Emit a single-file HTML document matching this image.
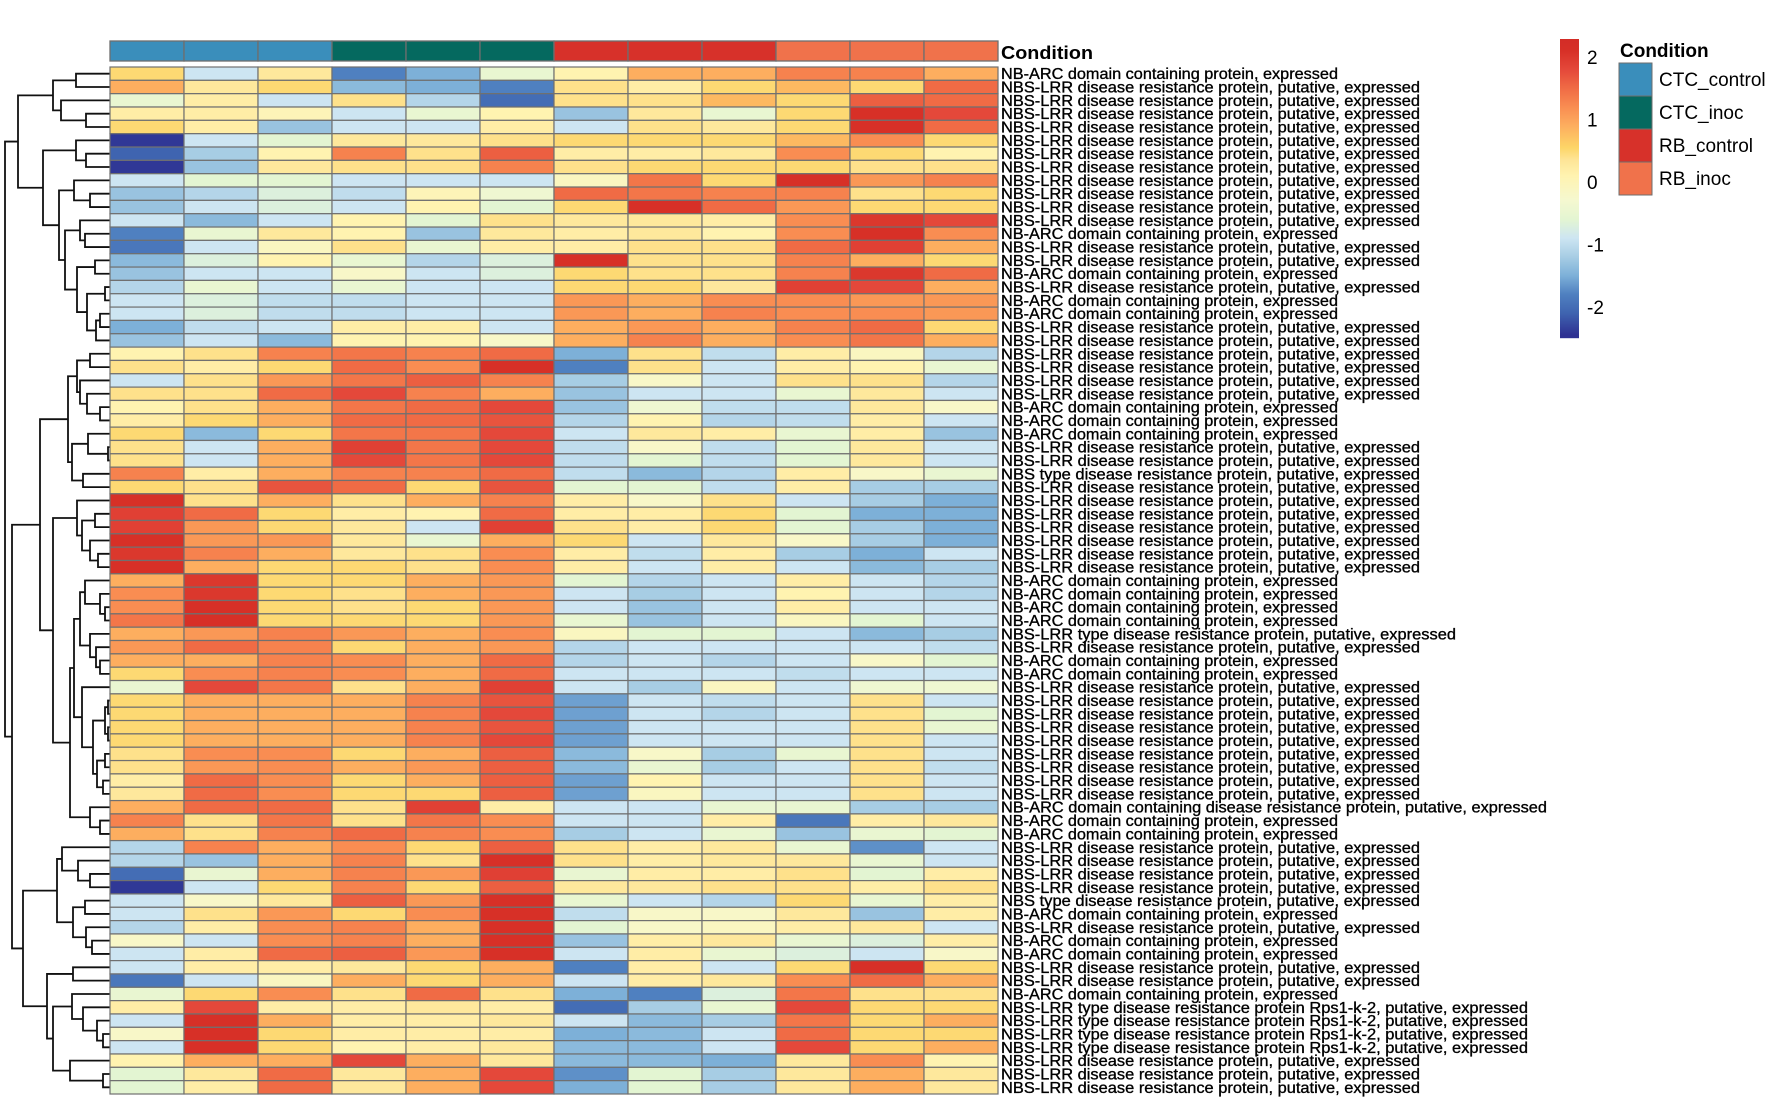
<!DOCTYPE html>
<html><head><meta charset="utf-8"><style>
html,body{margin:0;padding:0;background:#fff;}
svg{display:block;font-family:"Liberation Sans",Arial,sans-serif;}
</style></head><body>
<svg id="chart" width="1772" height="1104" viewBox="0 0 1772 1104" xmlns="http://www.w3.org/2000/svg">
<g id="dendro"></g>
<g id="annot"></g>
<g id="cells"></g>
<g id="labels"></g>
<g id="legend"></g>
</svg>
<script>
const samples = ["CTC_control","CTC_control","CTC_control","CTC_inoc","CTC_inoc","CTC_inoc","RB_control","RB_control","RB_control","RB_inoc","RB_inoc","RB_inoc"];
const conditions = ["CTC_control","CTC_inoc","RB_control","RB_inoc"];
const conditionColors = ["#3a8ebb","#05695f","#d7312a","#f0724b"];
const legendTicks = [2,1,0,-1,-2];
const A="NB-ARC domain containing protein, expressed";
const L="NBS-LRR disease resistance protein, putative, expressed";
const T="NBS type disease resistance protein, putative, expressed";
const LT="NBS-LRR type disease resistance protein, putative, expressed";
const AD="NB-ARC domain containing disease resistance protein, putative, expressed";
const R="NBS-LRR type disease resistance protein Rps1-k-2, putative, expressed";
const rowLabels = [A,L,L,L,L,L,L,L,L,L,L,L,A,L,L,A,L,A,A,L,L,L,L,L,L,A,A,A,L,L,T,L,L,L,L,L,L,L,A,A,A,A,LT,L,A,A,L,L,L,L,L,L,L,L,L,AD,A,A,L,L,L,L,T,A,L,A,A,L,L,A,R,R,R,R,L,L,L];
const values = [
[0.5,-0.9,0.3,-1.8,-1.5,-0.5,0.1,0.9,0.9,1.3,1.3,0.9],
[0.9,0.3,0.5,-1.4,-1.5,-1.8,0.4,0.2,0.5,0.8,0.5,1.5],
[-0.5,0.2,-0.9,0.4,-1.1,-2.0,0.4,0.4,0.8,0.5,1.6,1.5],
[0.2,0.2,0,-0.9,-0.5,0.1,-1.3,0.3,-0.5,0.5,2.1,1.8],
[0.5,0.2,-1.3,-0.9,-0.9,0.2,-0.9,0.4,0.3,0.5,2.1,1.5],
[-2.4,-0.9,-0.6,0.3,0.3,0.4,0.5,0.5,0.5,0.8,1.2,0.5],
[-2.1,-1.2,0.1,1.3,0.4,1.6,0.2,0.2,0.3,1.2,0.5,0.1],
[-2.4,-1.3,0.3,0.4,0.4,1.3,0.4,0.5,0.5,0.5,0.4,0.4],
[-0.9,-0.6,-0.6,-0.9,-0.9,-0.9,-0.1,1.4,0.5,2.1,1.1,1.3],
[-1.3,-1.1,-0.7,-1.0,0,-0.4,1.5,1.4,1.3,1.3,0.4,0.5],
[-1.3,-0.9,-0.7,-0.9,0.1,-0.6,0.5,2.1,1.5,1.1,0.5,0.5],
[-0.9,-1.4,-0.9,0.1,-0.6,0.4,0.3,0.3,0.2,1.2,2.0,1.8],
[-1.8,-0.5,0.3,0.1,-1.3,0.3,0.2,0.3,0.1,1.2,2.1,1.2],
[-1.9,-0.9,-0.1,0.4,-0.5,0.2,0.2,0.4,0.4,1.5,1.9,0.9],
[-1.4,-0.7,0.1,-0.5,-1.1,-0.7,2.1,0.4,0.4,1.3,0.9,0.5],
[-1.3,-0.9,-0.9,-0.2,-0.9,-0.7,0.5,0.4,0.4,1.3,2.0,1.5],
[-1.1,-0.5,-0.9,-0.5,-0.9,-0.9,0.5,0.5,0.3,1.9,1.8,0.9],
[-0.9,-0.7,-1.0,-1.0,-0.9,-0.9,1.1,0.9,1.2,1.2,1.1,1.1],
[-0.9,-0.7,-1.0,-1.0,-0.9,-0.9,1.1,0.9,1.3,1.2,1.2,1.1],
[-1.5,-1.0,-0.9,0.2,0.2,-0.9,0.9,1.1,0.9,1.3,1.5,0.5],
[-1.3,-0.9,-1.4,0.1,0.1,-0.2,0.9,1.3,0.9,1.2,1.4,0.9],
[0.1,0.4,1.3,1.4,1.3,1.5,-1.5,0.4,-1.0,0.2,-0.1,-1.1],
[0.4,0.2,0.5,1.5,1.2,2.1,-1.8,0.4,-0.9,0.2,0.1,-0.5],
[-0.9,0.4,1.1,1.4,1.6,1.3,-1.2,-0.2,-0.9,0.4,0.4,-1.1],
[0.4,0.4,1.5,1.8,1.3,0.9,-1.3,-0.9,-0.9,-0.5,0.3,-0.9],
[0.1,0.4,0.9,1.4,1.5,1.8,-1.3,-0.4,-1.0,-1.0,0.3,-0.2],
[0.2,0.5,0.9,1.5,1.5,1.7,-1.1,0.1,-1.1,-1.0,0.2,-0.9],
[0.5,-1.4,0.5,1.4,1.4,1.8,-0.9,0.3,0.2,-0.5,0.2,-1.3],
[0.4,-0.9,0.9,1.9,1.4,1.8,-1.0,-0.2,-1.0,-0.6,0.3,-0.9],
[0.4,-0.9,0.9,1.8,1.4,1.8,-1.0,-0.6,-1.0,-0.6,0.3,-0.9],
[1.3,0.2,0.9,1.3,1.3,1.5,-1.0,-1.4,-1.1,0.2,-0.2,-0.5],
[0.5,0.4,1.7,1.5,0.5,1.7,-0.6,-0.6,-1.0,0.2,-1.2,-1.2],
[2.1,0.4,0.9,0.4,0.9,1.3,0.2,-0.2,0.4,-0.9,-1.2,-1.5],
[1.9,1.5,0.5,0.2,0.1,1.5,0.2,0.2,0.5,-0.6,-1.5,-1.5],
[1.9,1.1,0.5,0.3,-0.9,1.9,0.4,0.2,0.5,-0.6,-1.2,-1.5],
[2.1,1.1,1.1,0.3,-0.5,0.9,0.5,-0.9,0.3,-0.2,-1.2,-1.5],
[2.0,1.3,0.9,0.3,0.4,1.2,0.2,-1.0,0.2,-1.2,-1.5,-0.9],
[2.1,0.9,0.5,0.5,0.4,1.2,0.2,-0.9,0.2,-0.9,-1.4,-1.2],
[0.9,2.0,0.5,0.5,0.9,1.1,-0.6,-1.1,-0.9,0.2,-0.9,-1.1],
[1.2,2.0,0.5,0.4,0.9,1.1,-0.9,-1.2,-0.9,0.1,-0.9,-1.1],
[1.2,2.1,0.5,0.4,0.5,1.1,-0.9,-1.3,-0.9,0.2,-0.9,-0.9],
[1.4,2.1,0.5,0.5,0.5,1.1,-0.5,-1.3,-0.9,-0.1,-0.6,-0.9],
[0.9,1.1,1.3,1.1,0.9,1.2,-0.1,-0.6,-0.6,-0.9,-1.4,-1.2],
[1.1,1.5,1.3,0.5,0.9,1.1,-1.1,-0.9,-0.9,-0.9,-0.9,-1.0],
[0.9,0.9,1.3,1.2,0.9,1.5,-1.1,-0.9,-1.1,-0.9,-0.2,-0.6],
[0.5,1.2,1.3,1.2,0.9,1.5,-0.9,-0.9,-0.9,-1.0,-0.9,-0.9],
[-0.5,1.8,1.4,0.4,0.9,1.9,-0.9,-1.2,-0.1,-0.9,-0.4,-0.4],
[0.5,0.9,0.9,0.9,1.3,1.7,-1.6,-0.9,-1.0,-0.9,0.4,-0.9],
[0.5,0.9,0.9,0.9,1.3,1.8,-1.6,-0.9,-1.1,-0.9,0.4,-0.6],
[0.5,0.9,0.9,0.9,1.3,1.7,-1.6,-0.9,-0.9,-0.9,0.4,-0.5],
[0.5,0.9,0.9,0.9,1.3,1.8,-1.6,-0.9,-0.9,-0.9,0.4,-0.9],
[0.4,1.2,1.2,0.5,0.9,1.6,-1.4,-0.2,-1.2,-0.5,0.4,-0.9],
[0.4,1.1,1.2,0.9,1.1,1.6,-1.4,-0.5,-1.2,-0.9,0.4,-1.0],
[0.2,1.5,1.2,0.5,0.9,1.6,-1.6,0.1,-0.9,-0.9,0.4,-0.9],
[0.3,1.5,1.2,0.5,0.5,1.6,-1.6,-0.1,-0.9,-0.9,0.4,-0.9],
[0.9,1.5,1.5,0.4,1.9,0.2,-0.9,-0.9,-0.5,-0.5,-1.2,-1.2],
[1.3,0.4,1.4,0.4,1.4,1.2,-0.9,-0.9,0.2,-1.9,0.2,0.3],
[0.9,0.4,1.3,1.5,1.3,1.2,-1.2,-0.9,-0.5,-1.3,-0.5,-0.6],
[-1.1,1.3,0.9,1.2,0.5,1.6,0.4,0.2,0.3,-0.5,-1.7,-0.9],
[-1.1,-1.3,0.9,1.3,0.4,2.1,0.4,0.2,0.3,0.3,-0.5,-0.9],
[-2.0,-0.5,0.9,1.3,1.1,1.9,-0.5,0.2,0.2,0.4,-0.6,0.2],
[-2.4,-0.9,0.5,1.3,0.5,1.6,0.3,0.3,0.4,0.4,0.2,0.4],
[-0.9,-0.2,0.3,1.6,1.1,2.1,-0.5,-0.9,-1.1,0.5,-0.5,0.2],
[-0.9,0.4,1.1,0.5,1.2,2.1,-1.0,-0.2,-0.2,0.3,-1.3,0.2],
[-1.1,0.2,1.2,1.3,0.9,2.1,-0.6,-0.2,-0.1,0.2,0.3,-0.9],
[-0.2,-0.9,1.2,1.3,0.9,2.1,-1.3,0.2,0.3,-0.5,-0.7,0.2],
[-0.9,0.2,1.5,1.6,1.1,2.1,-0.9,0.2,-0.5,-0.7,-0.9,-0.2],
[-0.9,0.2,0.2,0.3,0.5,0.9,-1.8,0.2,-0.9,0.5,2.1,0.5],
[-1.9,-0.9,-0.1,0.9,0.5,0.9,-0.9,0.2,0.3,1.2,1.5,0.9],
[-0.5,0.5,1.2,0.4,1.5,0.4,-1.5,-1.8,-0.7,1.4,0.4,0.4],
[0.2,1.8,0.2,0.2,0.3,0.2,-2.0,-1.2,-0.5,1.8,0.5,0.5],
[-0.9,2.1,0.9,0.2,0.2,0.3,-0.9,-1.4,-1.2,1.4,0.5,0.9],
[-0.2,2.1,0.5,0.2,0.2,0.2,-1.5,-1.4,-0.9,1.5,0.5,0.5],
[-0.9,2.1,0.5,0.1,0.2,0.3,-1.4,-1.4,-0.9,1.8,0.5,0.9],
[0.1,0.9,0.9,1.8,0.9,0.3,-1.4,-1.4,-1.5,0.3,1.2,0.1],
[-0.6,0.3,1.5,0.3,0.9,1.8,-1.7,-0.6,-1.2,0.3,0.9,0.3],
[-0.6,0.2,1.5,0.3,0.9,1.8,-1.5,-0.6,-1.2,0.3,0.9,0.3]
];
// dendrogram: [mergeX, left, right]; leaves are row indices
const tree = [5,
 [18,[53,[76,0,1],[61,2,[86,3,4]]],
     [43,[76,5,[86,6,7]],
         [59,[74,8,[90,9,10]],
             [65,[80,11,[85,12,13]],
                 [77,[95,14,15],[87,[105,16,17],[96,[100,18,19],20]]]]]]],
 [12,
  [40,
   [68,[77,[90,21,22],[80,23,[87,24,[100,25,26]]]],[72,[88,27,[108,28,29]],[83,30,31]]],
   [53,[77,32,[82,[95,33,34],[90,35,[98,36,37]]]],
       [70,[74,[80,[85,38,[100,39,[105,40,41]]],[90,42,[96,43,[100,44,45]]]],
               [82,46,[93,[105,[108,47,48],[108,49,50]],[97,[105,51,52],[103,53,54]]]]],
           [90,55,[100,56,57]]]]],
  [23,
   [57,[62,58,[78,59,[90,60,61]]],[73,[85,62,63],[86,64,[92,65,66]]]],
   [47,[73,67,68],[53,[72,69,[83,70,[97,71,[103,72,73]]]],[70,74,[103,75,76]]]]]]];

const NS="http://www.w3.org/2000/svg";
function mk(tag,attrs,parent){const e=document.createElementNS(NS,tag);for(const k in attrs)e.setAttribute(k,attrs[k]);parent.appendChild(e);return e;}
const X0=110,COLW=74,Y0=67,Y1=1094,ROWH=(Y1-Y0)/values.length;
const xCol=i=>X0+i*COLW;
const yRow=r=>Y0+r*ROWH;
const stops=[[-2.45,[46,49,146]],[-2.1,[63,100,176]],[-1.8,[79,128,192]],[-1.5,[125,176,216]],[-1.2,[167,205,228]],[-0.9,[205,229,242]],[-0.6,[227,245,210]],[-0.3,[245,248,208]],[0.1,[255,243,176]],[0.35,[254,229,151]],[0.55,[253,213,103]],[0.9,[253,174,95]],[1.2,[249,141,82]],[1.5,[240,107,69]],[1.8,[228,72,58]],[2.1,[215,48,39]],[2.4,[208,42,38]]];
function color(v){
 if(v<=stops[0][0])return `rgb(${stops[0][1]})`;
 for(let i=1;i<stops.length;i++){if(v<=stops[i][0]){const a=stops[i-1],b=stops[i],t=(v-a[0])/(b[0]-a[0]);
  const c=a[1].map((x,j)=>Math.round(x+(b[1][j]-x)*t));return `rgb(${c})`;}}
 return `rgb(${stops[stops.length-1][1]})`;
}
const annot=document.getElementById('annot');
samples.forEach((s,i)=>{
 const r=mk('rect',{x:xCol(i),y:41,width:COLW,height:20,fill:conditionColors[conditions.indexOf(s)],stroke:'#6e6e6e','stroke-width':1.3},annot);
 
 
});
const at=mk('text',{x:1001,y:59,'font-size':18,'font-weight':'bold',textLength:92,lengthAdjust:'spacingAndGlyphs'},annot);
at.textContent='Condition';


const cells=document.getElementById('cells');
values.forEach((row,r)=>row.forEach((v,c)=>{
 const e=mk('rect',{x:xCol(c),y:yRow(r),width:COLW,height:ROWH,fill:color(v),stroke:'#707070','stroke-width':1.2},cells);
 
 
}));
const widths={};widths[A]=337;widths[L]=419;widths[T]=419;widths[LT]=455;widths[AD]=546;widths[R]=527;
const labels=document.getElementById('labels');
rowLabels.forEach((t,r)=>{
 const e=mk('text',{x:1001,y:yRow(r)+ROWH/2+5.5,'font-size':16,fill:'#000',stroke:'#000','stroke-width':0.35,textLength:widths[t],lengthAdjust:'spacingAndGlyphs'},labels);
 e.textContent=t;
 
 
});
const dg=document.getElementById('dendro');
function draw(n){
 if(typeof n==='number')return {x:X0,y:yRow(n)+ROWH/2};
 const a=draw(n[1]),b=draw(n[2]),x=n[0];
 const p=mk('path',{d:`M${a.x},${a.y}H${x}V${b.y}H${b.x}`,fill:'none',stroke:'#111','stroke-width':1.8},dg);
 
 
 return {x:x,y:(a.y+b.y)/2};
}
draw(tree);
const lg=document.getElementById('legend');
const CBT=39,CBB=338,VT=2.29,VB=-2.5;
const vy=v=>CBT+(VT-v)/(VT-VB)*(CBB-CBT);
for(let y=CBT;y<CBB;y+=1){
 const v=VT-(y-CBT+0.5)/(CBB-CBT)*(VT-VB);
 mk('rect',{x:1560,y:y,width:19,height:1.2,fill:color(v)},lg);
}
legendTicks.forEach(t=>{
 const e=mk('text',{x:1587,y:vy(t)+7,'font-size':19},lg);
 e.textContent=String(t);
 
 
});
const lt=mk('text',{x:1620,y:57,'font-size':19,'font-weight':'bold'},lg);
lt.textContent='Condition';


conditions.forEach((c,i)=>{
 const r=mk('rect',{x:1619,y:63+i*33,width:33,height:33,fill:conditionColors[i],stroke:'#6e6e6e','stroke-width':1},lg);
 
 
 const t=mk('text',{x:1659,y:63+i*33+23,'font-size':19},lg);
 t.textContent=c;
 
 
});
</script>
</body></html>
